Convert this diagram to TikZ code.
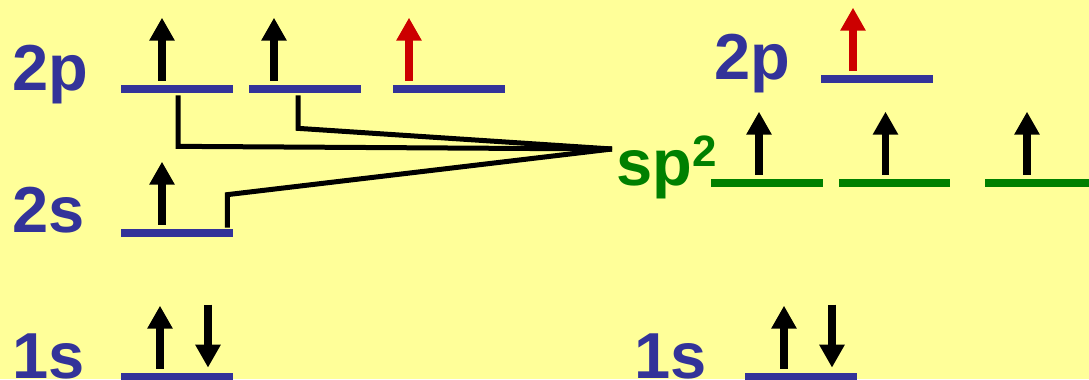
\documentclass[tikz,border=0pt]{standalone}
\usepackage{fontspec}
\setmainfont{Liberation Sans}
\definecolor{orbblue}{RGB}{51,51,153}
\definecolor{orbgreen}{RGB}{0,128,0}
\definecolor{spinred}{RGB}{204,0,0}
\definecolor{bgyellow}{RGB}{255,255,153}
\usetikzlibrary{arrows.meta,calc}

\begin{document}
\begin{tikzpicture}[x=0.02cm, y=-0.02cm,
  level/.style={rectangle, fill=orbblue, inner sep=0pt,
                minimum width=2.24cm, minimum height=0.16cm},
  hlevel/.style={level, fill=orbgreen},
  lbl/.style={anchor=base west, inner sep=0pt, text=orbblue,
              font=\bfseries\fontsize{37}{44}\selectfont},
  spin/.style={-{Triangle[length=0.46cm, width=0.48cm]}, line width=0.15cm},
  link/.style={line width=0.1cm}
]
% Background
\path[use as bounding box, fill=bgyellow] (0,0) rectangle (1089,379);

% Labels
\node[lbl] (l2p) at (12,90)   {2p};
\node[lbl] (l2s) at (12,232)  {2s};
\node[lbl] (l1s) at (12,378)  {1s};
\node[lbl] (r2p) at (714,79)  {2p};
\node[lbl] (r1s) at (634,378) {1s};
\node[lbl, text=orbgreen] (lsp) at (616,185)
  {sp\raisebox{0.28em}{\fontsize{25}{25}\selectfont 2}};

% Levels, left
\node[level] (p1) at (177,89)  {};
\node[level] (p2) at (305,89)  {};
\node[level] (p3) at (449,89)  {};
\node[level] (s2) at (177,233) {};
\node[level] (s1) at (177,377) {};

% Levels, right
\node[level]  (hp)  at (877,79)    {};
\node[hlevel] (sp1) at (767,183)   {};
\node[hlevel] (sp2) at (894.5,183) {};
\node[hlevel] (sp3) at (1041,183)  {};
\node[level]  (r1)  at (801,377)   {};

% Spins
\foreach \lv/\dx in {p1/-15, p2/-31, s2/-15, sp1/-8, sp2/-9, sp3/-14, s1/-17, r1/-17}
  \draw[spin] ($(\lv.north)+(\dx,-4)$) -- ++(0,-63);
\foreach \lv/\dx in {p3/-40, hp/-24}
  \draw[spin, color=spinred] ($(\lv.north)+(\dx,-4)$) -- ++(0,-63);
\foreach \lv in {s1, r1}
  \draw[spin] ($(\lv.north)+(31,-68)$) -- ++(0,63);

% Mixing
\coordinate (hub) at (612,149);
\draw[link] ($(p1.south)+(1,2)$)       -- ++(0,51)  -- (hub);
\draw[link] ($(p2.south)+(-7,2)$)      -- ++(0,33)  -- (hub);
\draw[link] ($(s2.north east)+(-6,-1)$) -- ++(0,-33) -- (hub);
\end{tikzpicture}
\end{document}
